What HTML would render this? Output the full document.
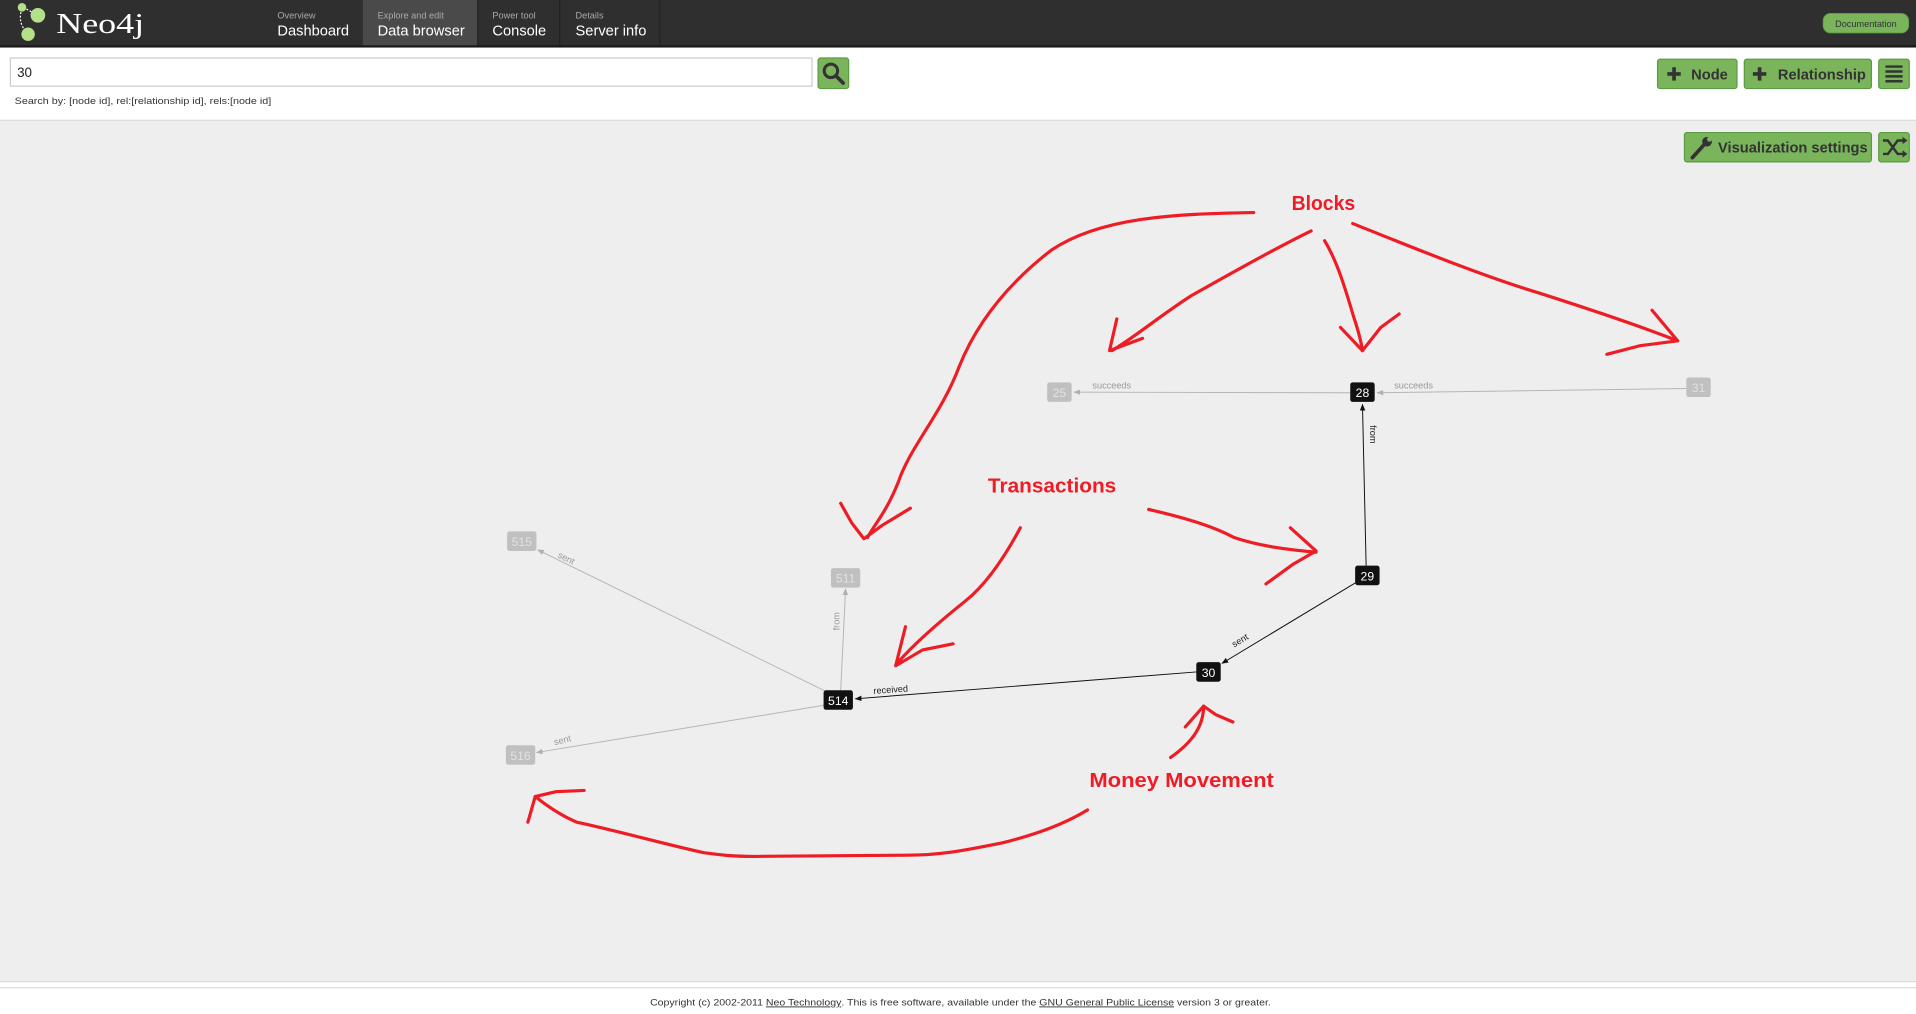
<!DOCTYPE html>
<html><head><meta charset="utf-8">
<style>
html,body{margin:0;padding:0;width:1916px;height:1014px;overflow:hidden;background:#eee;}
svg{display:block;}
text{font-family:"Liberation Sans",Arial,sans-serif;}
</style></head>
<body>
<svg width="1916" height="1014" viewBox="0 0 1568 830" preserveAspectRatio="none" xmlns="http://www.w3.org/2000/svg">
<defs>
<marker id="ag" viewBox="0 0 10 10" refX="9" refY="5" markerWidth="7" markerHeight="7" orient="auto"><path d="M0,1 L10,5 L0,9 z" fill="#b0b0b0"/></marker>
<marker id="ab" viewBox="0 0 10 10" refX="9" refY="5" markerWidth="7" markerHeight="7" orient="auto"><path d="M0,1 L10,5 L0,9 z" fill="#111"/></marker>
</defs>
<!-- header -->
<rect x="0" y="0" width="1568" height="38" fill="#2f2f2f"/>
<rect x="0" y="37" width="1568" height="2" fill="#1a1a1a"/>
<rect x="297" y="0" width="94" height="37" fill="#4a4a4a"/>
<line x1="391" y1="0" x2="391" y2="37" stroke="#222"/>
<line x1="458" y1="0" x2="458" y2="37" stroke="#222"/>
<line x1="540" y1="0" x2="540" y2="37" stroke="#222"/>
<path d="M18,7 Q14,18 22,27" stroke="#fff" stroke-width="1" stroke-dasharray="1.5,1.5" fill="none"/>
<path d="M19,6 L30,12" stroke="#fff" stroke-width="1" stroke-dasharray="1.5,1.5"/>
<circle cx="18" cy="6" r="3.5" fill="#b5e08a"/>
<circle cx="31" cy="12.5" r="6" fill="#b5e08a"/>
<circle cx="23" cy="28" r="5.5" fill="#b5e08a"/>
<text x="46" y="27" style="font-family:'Liberation Serif',serif" font-size="23" fill="#fff" textLength="72" lengthAdjust="spacingAndGlyphs">Neo4j</text>
<text x="227" y="15" font-size="7.5" fill="#aaa">Overview</text>
<text x="227" y="29" font-size="12" fill="#fff">Dashboard</text>
<text x="309" y="15" font-size="7.5" fill="#aaa">Explore and edit</text>
<text x="309" y="29" font-size="12" fill="#fff">Data browser</text>
<text x="403" y="15" font-size="7.5" fill="#aaa">Power tool</text>
<text x="403" y="29" font-size="12" fill="#fff">Console</text>
<text x="471" y="15" font-size="7.5" fill="#aaa">Details</text>
<text x="471" y="29" font-size="12" fill="#fff">Server info</text>
<rect x="1492" y="11" width="70" height="16" rx="6" fill="#7ab55c" stroke="#5d9a45" stroke-width="0.7"/>
<text x="1527" y="22" font-size="7.5" fill="#333" text-anchor="middle">Documentation</text>
<!-- search area -->
<rect x="0" y="39" width="1568" height="59" fill="#fff"/>
<line x1="0" y1="98.5" x2="1568" y2="98.5" stroke="#ddd"/>
<rect x="8.5" y="47.5" width="656" height="23" fill="#fff" stroke="#ccc"/>
<text x="14" y="63" font-size="11" fill="#222">30</text>
<rect x="669.5" y="47.5" width="25" height="25" rx="2" fill="#7ab55c" stroke="#5d9a45"/>
<circle cx="680" cy="58" r="5.5" fill="none" stroke="#333" stroke-width="2.5"/>
<line x1="684" y1="62" x2="690" y2="68" stroke="#333" stroke-width="3" stroke-linecap="round"/>
<text x="12" y="85" font-size="7.5" fill="#333" textLength="210" lengthAdjust="spacingAndGlyphs">Search by: [node id], rel:[relationship id], rels:[node id]</text>
<rect x="1356.5" y="48.5" width="65" height="24" rx="2" fill="#7ab55c" stroke="#5d9a45"/>
<path d="M1370,55 v11 M1364.5,60.5 h11" stroke="#333" stroke-width="3"/>
<text x="1384" y="65" font-size="12" font-weight="bold" fill="#333">Node</text>
<rect x="1427.5" y="48.5" width="104" height="24" rx="2" fill="#7ab55c" stroke="#5d9a45"/>
<path d="M1440,55 v11 M1434.5,60.5 h11" stroke="#333" stroke-width="3"/>
<text x="1455" y="65" font-size="12" font-weight="bold" fill="#333">Relationship</text>
<rect x="1537.5" y="48.5" width="25" height="24" rx="2" fill="#7ab55c" stroke="#5d9a45"/>
<path d="M1543,54.5 h14 M1543,58.5 h14 M1543,62.5 h14 M1543,66.5 h14" stroke="#333" stroke-width="2"/>
<!-- vis buttons -->
<rect x="1378.5" y="108.5" width="153" height="24" rx="2" fill="#7ab55c" stroke="#5d9a45"/>
<path d="M1385,129 L1395,118" stroke="#333" stroke-width="3" stroke-linecap="round"/>
<circle cx="1397" cy="116" r="4" fill="#333"/>
<circle cx="1399" cy="114" r="2" fill="#7ab55c"/>
<text x="1406" y="125" font-size="12" font-weight="bold" fill="#333">Visualization settings</text>
<rect x="1537.5" y="108.5" width="25" height="24" rx="2" fill="#7ab55c" stroke="#5d9a45"/>
<path d="M1541,115 h4 l8,11 h5 M1541,126 h4 l8,-11 h5" stroke="#333" stroke-width="2" fill="none"/>
<path d="M1557,112 l4,3 l-4,3z M1557,123 l4,3 l-4,3z" fill="#333"/>
<!-- footer -->
<rect x="0" y="803" width="1568" height="27" fill="#fff"/>
<line x1="0" y1="803.5" x2="1568" y2="803.5" stroke="#ddd"/>
<line x1="0" y1="808.5" x2="1568" y2="808.5" stroke="#ddd"/>
<text x="532" y="823" font-size="7.5" fill="#333" textLength="508" lengthAdjust="spacingAndGlyphs">Copyright (c) 2002-2011 <tspan text-decoration="underline">Neo Technology</tspan>. This is free software, available under the <tspan text-decoration="underline">GNU General Public License</tspan> version 3 or greater.</text>
<!-- edges -->
<g stroke-width="0.8" fill="none">
<line x1="1105" y1="321.5" x2="879" y2="321" stroke="#b5b5b5" marker-end="url(#ag)"/>
<line x1="1380" y1="318" x2="1127" y2="321.5" stroke="#b5b5b5" marker-end="url(#ag)"/>
<line x1="1118" y1="463" x2="1115" y2="331" stroke="#111" marker-end="url(#ab)"/>
<line x1="1111" y1="476" x2="1000" y2="543" stroke="#111" marker-end="url(#ab)"/>
<line x1="979" y1="550" x2="700" y2="572" stroke="#111" marker-end="url(#ab)"/>
<line x1="676" y1="566" x2="440" y2="450" stroke="#b5b5b5" marker-end="url(#ag)"/>
<line x1="688" y1="565" x2="692" y2="482" stroke="#b5b5b5" marker-end="url(#ag)"/>
<line x1="676" y1="577" x2="439" y2="616" stroke="#b5b5b5" marker-end="url(#ag)"/>
</g>
<g font-size="7.5">
<text x="894" y="318" fill="#999">succeeds</text>
<text x="1141" y="318" fill="#999">succeeds</text>
<text transform="translate(1121,348) rotate(90)" fill="#222">from</text>
<text transform="translate(1010,530) rotate(-31)" fill="#222">sent</text>
<text transform="translate(715,568) rotate(-4)" fill="#222">received</text>
<text transform="translate(456,456) rotate(26)" fill="#999">sent</text>
<text transform="translate(687,516) rotate(-90)" fill="#999">from</text>
<text transform="translate(454,610) rotate(-14)" fill="#999">sent</text>
</g>
<!-- nodes -->
<g font-size="10" text-anchor="middle">
<rect x="857" y="313" width="20" height="16" rx="2" fill="#c0c0c0"/><text x="867" y="325" fill="#e2e2e2">25</text>
<rect x="1105" y="313" width="20" height="16" rx="2" fill="#111"/><text x="1115" y="325" fill="#fff">28</text>
<rect x="1380" y="309" width="20" height="16" rx="2" fill="#c0c0c0"/><text x="1390" y="321" fill="#e2e2e2">31</text>
<rect x="1109" y="463" width="20" height="16" rx="2" fill="#111"/><text x="1119" y="475" fill="#fff">29</text>
<rect x="979" y="542" width="20" height="16" rx="2" fill="#111"/><text x="989" y="554" fill="#fff">30</text>
<rect x="674" y="565" width="24" height="16" rx="2" fill="#111"/><text x="686" y="577" fill="#fff">514</text>
<rect x="415" y="435" width="24" height="16" rx="2" fill="#c0c0c0"/><text x="427" y="447" fill="#e2e2e2">515</text>
<rect x="680" y="465" width="24" height="16" rx="2" fill="#c0c0c0"/><text x="692" y="477" fill="#e2e2e2">511</text>
<rect x="414" y="610" width="24" height="16" rx="2" fill="#c0c0c0"/><text x="426" y="622" fill="#e2e2e2">516</text>
</g>
<!-- red annotations -->
<g stroke="#ee1c24" stroke-width="2.6" fill="none" stroke-linecap="round" stroke-linejoin="round">
<path d="M1026,174 C960,175 900,178 860,205 C815,240 795,275 785,300 C770,340 745,365 735,395 C725,420 715,430 710,440"/>
<path d="M688,412 L697,428 L707,441 L722,430 L745,416"/>
<path d="M1073,189 C1040,205 1000,228 975,242 C950,258 930,275 910,287"/>
<path d="M914,261 L908,287 L935,277"/>
<path d="M1084,197 C1095,215 1102,240 1108,260 C1112,272 1114,280 1115,287"/>
<path d="M1097,268 L1115,287 L1130,268 L1145,257"/>
<path d="M1107,183 C1150,200 1210,225 1260,240 C1310,256 1345,268 1373,279"/>
<path d="M1352,254 L1373,279 L1342,283 L1315,290"/>
<path d="M835,432 C820,460 805,480 790,492 C770,508 750,525 735,542"/>
<path d="M741,513 L733,545 L755,532 L780,527"/>
<path d="M940,417 C975,425 995,432 1010,440 C1030,447 1055,450 1077,452"/>
<path d="M1056,432 L1077,451 L1058,462 L1036,478"/>
<path d="M958,620 C975,608 985,595 985,578"/>
<path d="M970,595 L985,578 L995,585 L1009,591"/>
<path d="M890,663 C870,675 848,683 820,690 C790,696 770,700 743,700 L618,701 C600,701 590,700 576,698 C540,690 505,680 472,673 C460,668 448,660 438,652"/>
<path d="M432,673 L438,652 L455,648 L478,647"/>
</g>
<g fill="#ee1c24" font-weight="bold" font-size="17" text-anchor="middle">
<text x="1083" y="172" textLength="52" lengthAdjust="spacingAndGlyphs">Blocks</text>
<text x="861" y="403" textLength="105" lengthAdjust="spacingAndGlyphs">Transactions</text>
<text x="967" y="644" textLength="151" lengthAdjust="spacingAndGlyphs">Money Movement</text>
</g>
</svg>
</body></html>
